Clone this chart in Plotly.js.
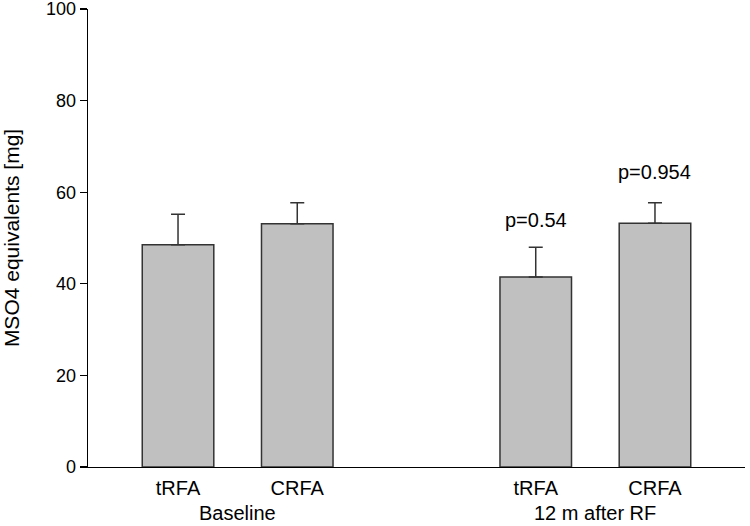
<!DOCTYPE html>
<html>
<head>
<meta charset="utf-8">
<script src="https://cdn.plot.ly/plotly-3.0.1.min.js"></script>
<style>html,body{margin:0;padding:0;background:#fff;}#chart{width:750px;height:526px;}</style>
</head>
<body>
<div id="chart"></div>
<script>
const positions = [1, 2, 4, 5];
const barLabels = ["tRFA", "CRFA", "tRFA", "CRFA"];
const groupLabels = ["Baseline", "12 m after RF"];
const groupCenters = [1.5, 4.5];
const means = [48.5, 53.1, 41.5, 53.2];
const upperErr = [55.2, 57.7, 48.0, 57.7];
const pLabels = ["", "", "p=0.54", "p=0.954"];
const pY = [0, 0, 54.0, 64.5];
const yTicks = [0, 20, 40, 60, 80, 100];

const font = "Liberation Sans, Arial, sans-serif";
const errPlus = means.map((m, i) => upperErr[i] - m);

const trace = {
  type: "bar",
  x: positions,
  y: means,
  width: 0.6,
  marker: { color: "#c0c0c0", line: { color: "#333333", width: 1.5 } },
  error_y: { type: "data", symmetric: false, array: errPlus, arrayminus: means.map(() => 0),
             color: "#333333", thickness: 1.5, width: 7 },
  hoverinfo: "none"
};

const annotations = [];
groupLabels.forEach((g, i) => {
  annotations.push({ x: groupCenters[i], y: 0, xref: "x", yref: "paper", yanchor: "top",
    yshift: -33, text: g, showarrow: false, font: { family: font, size: 20, color: "#000" } });
});
pLabels.forEach((p, i) => {
  if (p) annotations.push({ x: positions[i], y: pY[i], xref: "x", yref: "y", text: p,
    showarrow: false, font: { family: font, size: 20, color: "#000" } });
});

const layout = {
  width: 750, height: 526,
  margin: { l: 88, r: 5, t: 9, b: 59 },
  paper_bgcolor: "#fff", plot_bgcolor: "#fff",
  showlegend: false,
  xaxis: { range: [0.245, 5.755], tickvals: positions, ticktext: barLabels,
           showline: true, linecolor: "#000", linewidth: 1.3, ticks: "", showgrid: false, zeroline: false,
           ticklabelstandoff: 3,
           tickfont: { family: font, size: 20, color: "#000" } },
  yaxis: { range: [0, 100], tickvals: yTicks, ticktext: yTicks.map(String), showline: true, linecolor: "#000",
           linewidth: 1.3, ticks: "outside", ticklen: 7, tickwidth: 1.3, tickcolor: "#000",
           showgrid: false, zeroline: false, ticklabeloverflow: "allow",
           tickfont: { family: font, size: 18, color: "#000" },
           title: { text: "MSO4 equivalents [mg]", font: { family: font, size: 21, color: "#000" }, standoff: 28 } },
  annotations: annotations
};

Plotly.newPlot("chart", [trace], layout, { displayModeBar: false, staticPlot: true });
</script>
</body>
</html>
